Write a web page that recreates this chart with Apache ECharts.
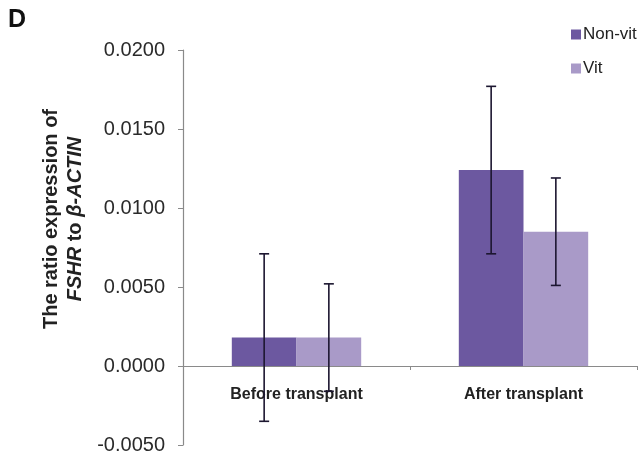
<!DOCTYPE html>
<html>
<head>
<meta charset="utf-8">
<script src="https://cdn.jsdelivr.net/npm/echarts@6/dist/echarts.min.js"></script>
<style>html,body{margin:0;padding:0;background:#fff;}#c{width:643px;height:456px;}</style>
</head>
<body>
<div id="c"></div>
<script>
var categories = ['Before transplant', 'After transplant'];
var seriesNames = ['Non-vit', 'Vit'];
var nonVit = [0.0018, 0.0124];
var vit = [0.0018, 0.0085];
var nonVitErr = [0.0053, 0.0053];
var vitErr = [0.0034, 0.0034];
var yTicks = { min: -0.005, max: 0.02, interval: 0.005 };

var colors = ['#6c58a0', '#a99ac8'];
var gapPct = 0.43;

function errData(vals, errs) {
  return vals.map(function (v, i) { return [i, v, errs[i]]; });
}
function errSeries(vals, errs, side) {
  return {
    type: 'custom',
    z: 10,
    silent: true,
    data: errData(vals, errs),
    renderItem: function (params, api) {
      var idx = api.value(0), v = api.value(1), e = api.value(2);
      var band = api.size([1, 0])[0];
      var bw = band * (1 - gapPct) / 2;
      var top = api.coord([idx, v + e]);
      var bot = api.coord([idx, v - e]);
      var x = top[0] + side * bw / 2;
      var cap = 5;
      var st = { stroke: '#1c1630', lineWidth: 1.6 };
      return {
        type: 'group',
        children: [
          { type: 'line', shape: { x1: x, y1: top[1], x2: x, y2: bot[1] }, style: st },
          { type: 'line', shape: { x1: x - cap, y1: top[1], x2: x + cap, y2: top[1] }, style: st },
          { type: 'line', shape: { x1: x - cap, y1: bot[1], x2: x + cap, y2: bot[1] }, style: st }
        ]
      };
    }
  };
}

var chart = echarts.init(document.getElementById('c'), null, { renderer: 'canvas' });
chart.setOption({
  backgroundColor: '#ffffff',
  animation: false,
  textStyle: { fontFamily: 'Liberation Sans, Arial, sans-serif' },
  grid: { left: 183, right: 6, top: 50, bottom: 11, containLabel: false, outerBoundsMode: 'none' },
  legend: {
    orient: 'vertical',
    left: 566,
    top: 21,
    itemWidth: 10,
    itemHeight: 10,
    itemGap: 17,
    icon: 'rect',
    data: seriesNames,
    textStyle: { fontSize: 17, color: '#222', padding: [0, 0, 0, -3], fontFamily: 'Liberation Sans, Arial, sans-serif' }
  },
  xAxis: {
    type: 'category',
    data: categories,
    position: 'bottom',
    offset: -79,
    z: 1,
    axisLine: { onZero: false, lineStyle: { color: '#8a8a8a', width: 1.2 } },
    axisTick: { show: true, alignWithLabel: false, length: 4, lineStyle: { color: '#8a8a8a' } },
    axisLabel: {
      show: true, interval: 0, hideOverlap: false, showMinLabel: true, showMaxLabel: true,
      fontSize: 16, fontWeight: 'bold', color: '#222', margin: 21
    }
  },
  yAxis: {
    type: 'value',
    min: yTicks.min,
    max: yTicks.max,
    interval: yTicks.interval,
    splitLine: { show: false },
    axisLine: { show: true, lineStyle: { color: '#8a8a8a', width: 1.2 } },
    axisTick: { show: true, length: 5, lineStyle: { color: '#8a8a8a' } },
    axisLabel: {
      fontSize: 20, color: '#2a2a2a', margin: 18,
      formatter: function (v) { return v.toFixed(4); }
    }
  },
  series: [
    { name: seriesNames[0], type: 'bar', data: nonVit, barGap: '0%', barCategoryGap: '43%', itemStyle: { color: colors[0] } },
    { name: seriesNames[1], type: 'bar', data: vit, barGap: '0%', barCategoryGap: '43%', itemStyle: { color: colors[1] } },
    errSeries(nonVit, nonVitErr, -1),
    errSeries(vit, vitErr, 1)
  ],
  graphic: [
    {
      type: 'text', left: 8, top: 8,
      style: { text: 'D', fontSize: 25, fontWeight: 'bold', fill: '#111', fontFamily: 'Liberation Sans, Arial, sans-serif' }
    },
    {
      type: 'text',
      x: 63, y: 219,
      rotation: Math.PI / 2,
      style: {
        text: 'The ratio expression of\n{i|FSHR} to {i|β-ACTIN}',
        fontSize: 20, fontWeight: 'bold', fill: '#222',
        fontFamily: 'Liberation Sans, Arial, sans-serif',
        align: 'center', verticalAlign: 'middle', lineHeight: 24,
        rich: { i: { fontStyle: 'italic', fontWeight: 'bold', fontSize: 20, lineHeight: 24, fill: '#222', fontFamily: 'Liberation Sans, Arial, sans-serif' } }
      }
    }
  ]
});
</script>
</body>
</html>
